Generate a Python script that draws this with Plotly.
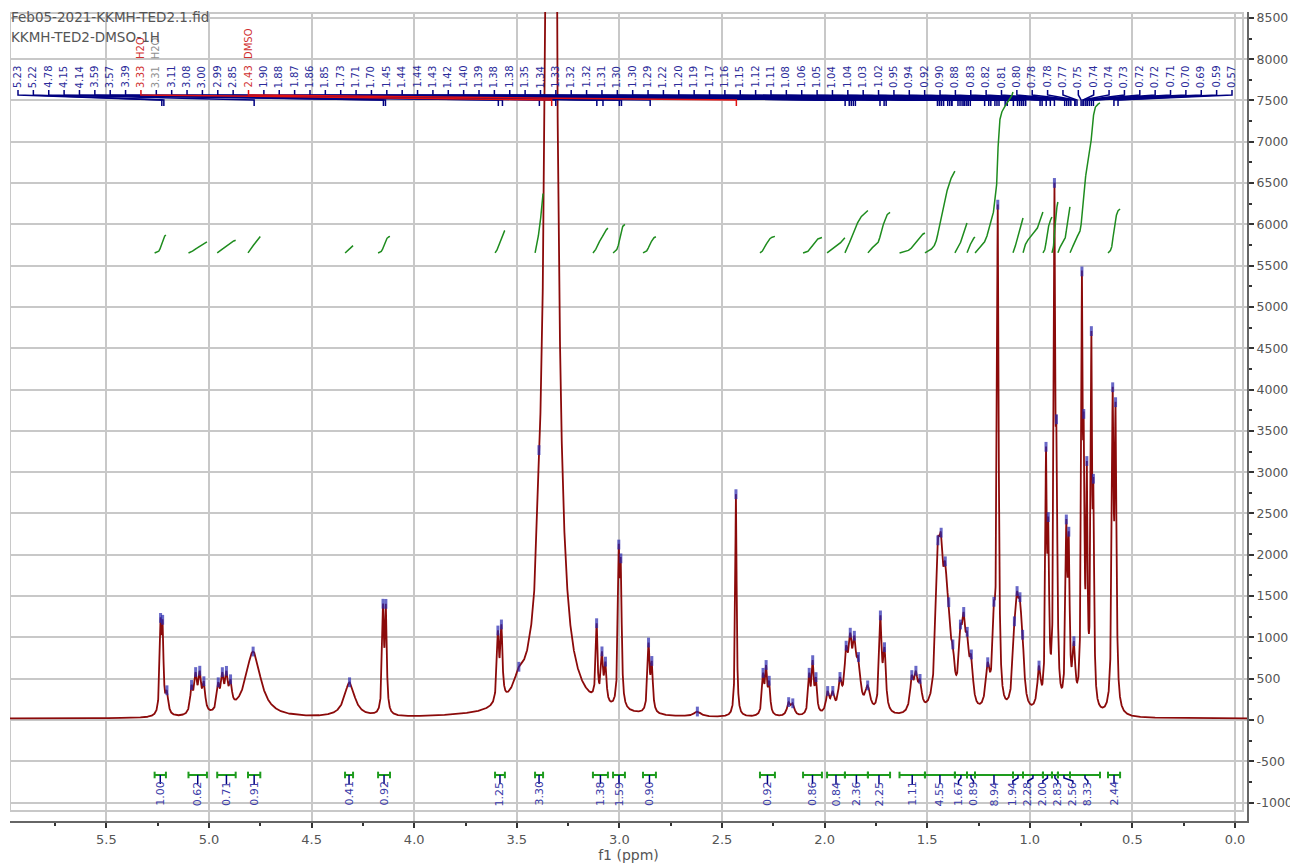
import numpy as np
import plotly.graph_objects as go

# spectrum lines: position (ppm), height, half width (ppm)
line_ppm = [5.236, 5.226, 5.205, 5.085, 5.065, 5.045, 5.025, 4.955, 4.935, 4.915, 4.895,
            4.785, 4.315, 4.152, 4.138, 3.592, 3.575, 3.49, 3.392, 3.333, 3.111, 3.085,
            3.068, 3.003, 2.993, 2.858, 2.842, 2.62, 2.432, 2.300, 2.285, 2.270, 2.175,
            2.155, 2.075, 2.058, 2.042, 1.985, 1.96, 1.925, 1.895, 1.875, 1.855, 1.835,
            1.79, 1.728, 1.708, 1.575, 1.555, 1.535, 1.448, 1.432, 1.412, 1.395, 1.375,
            1.338, 1.322, 1.305, 1.285, 1.205, 1.175, 1.156, 1.075, 1.062, 1.048, 1.035,
            0.955, 0.921, 0.910, 0.880, 0.870, 0.822, 0.810, 0.785, 0.746, 0.737, 0.722,
            0.700, 0.690, 0.596, 0.582]
line_height = [1000, 950, 250, 300, 420, 430, 330, 300, 380, 380, 280,
               800, 420, 1220, 1220, 800, 850, 200, 550, 26000, 900, 550,
               450, 1700, 1500, 800, 550, 60, 2700, 450, 520, 350, 150,
               130, 450, 580, 380, 250, 220, 350, 620, 700, 650, 500,
               300, 1100, 700, 380, 380, 300, 1500, 1300, 1100, 700, 400,
               700, 800, 600, 500, 500, 900, 6000, 650, 900, 850, 500,
               500, 2800, 1900, 5800, 2700, 2000, 1800, 700, 4800, 2600, 2600,
               4200, 2200, 3600, 3400]
line_hw = [0.005, 0.005, 0.008, 0.008, 0.008, 0.008, 0.008, 0.008, 0.008, 0.008, 0.008,
           0.045, 0.03, 0.005, 0.005, 0.006, 0.006, 0.03, 0.008, 0.02, 0.005, 0.006,
           0.006, 0.005, 0.005, 0.006, 0.006, 0.02, 0.004, 0.006, 0.006, 0.006, 0.01,
           0.01, 0.006, 0.006, 0.006, 0.01, 0.01, 0.01, 0.01, 0.01, 0.01, 0.012,
           0.015, 0.007, 0.008, 0.01, 0.01, 0.01, 0.012, 0.012, 0.012, 0.012, 0.01,
           0.01, 0.01, 0.01, 0.01, 0.012, 0.008, 0.005, 0.01, 0.01, 0.01, 0.01,
           0.01, 0.004, 0.005, 0.004, 0.005, 0.005, 0.005, 0.008, 0.004, 0.004, 0.004,
           0.004, 0.004, 0.005, 0.005]

# peak labels along the top
peak_labels = [5.23, 5.22, 4.78, 4.15, 4.14, 3.59, 3.57, 3.39, 3.33, 3.31, 3.11, 3.08, 3.00,
               2.99, 2.85, 2.43, 1.90, 1.88, 1.87, 1.86, 1.85, 1.73, 1.71, 1.70, 1.45, 1.44,
               1.44, 1.43, 1.42, 1.40, 1.39, 1.38, 1.38, 1.35, 1.34, 1.33, 1.32, 1.32, 1.31,
               1.30, 1.30, 1.29, 1.22, 1.20, 1.19, 1.17, 1.16, 1.15, 1.12, 1.11, 1.08, 1.06,
               1.05, 1.04, 1.04, 1.03, 1.02, 0.95, 0.94, 0.92, 0.90, 0.88, 0.83, 0.82, 0.81,
               0.80, 0.78, 0.78, 0.77, 0.75, 0.74, 0.74, 0.73, 0.72, 0.72, 0.71, 0.70, 0.69,
               0.59, 0.57]
solvent_tags = {8: ("H2O", "#d03030"), 9: ("H2O", "#909090"), 15: ("DMSO", "#d03030")}

# integration regions (ppm) and values
int_start = [5.265, 5.10, 4.96, 4.81, 4.337, 4.176, 3.606, 3.411, 3.129, 3.031, 2.885, 2.315,
             2.105, 1.988, 1.901, 1.789, 1.635, 1.511, 1.365, 1.306, 1.267, 1.082, 1.033,
             0.936, 0.892, 0.863, 0.804, 0.619]
int_end = [5.21, 5.01, 4.87, 4.75, 4.298, 4.118, 3.558, 3.372, 3.056, 2.973, 2.822, 2.242,
           2.013, 1.901, 1.789, 1.681, 1.511, 1.365, 1.306, 1.267, 1.082, 1.033, 0.936,
           0.892, 0.863, 0.804, 0.658, 0.560]
int_values = [1.00, 0.62, 0.71, 0.91, 0.41, 0.92, 1.25, 3.30, 1.38, 1.59, 0.90, 0.92,
              0.86, 0.84, 2.36, 2.25, 1.11, 4.55, 1.67, 0.89, 8.94, 1.94, 2.28, 2.00,
              2.83, 2.56, 8.33, 2.44]

title_lines = ["Feb05-2021-KKMH-TED2.1.fid", "KKMH-TED2-DMSO-1H"]

X_RANGE = [5.9698, -0.0585]
Y_RANGE = [-1223, 8571]


def px_to_ppm(px):
    return (1235 - px) / 205.2


def px_to_val(py):
    return (720 - py) / 0.0826


ppm = np.linspace(-0.06, 5.98, 24000)
spec = np.full_like(ppm, 15.0)
for p, h, w in zip(line_ppm, line_height, line_hw):
    spec += h * w ** 2 / (w ** 2 + (ppm - p) ** 2)


def spec_at(p):
    return np.interp(p, ppm, spec)


fig = go.Figure()

# frame
fig.add_shape(type="rect", x0=X_RANGE[0], x1=px_to_ppm(1243), y0=px_to_val(811), y1=px_to_val(13),
              line=dict(color="#c8c8c8", width=2), layer="below")

fig.add_trace(go.Scatter(x=ppm, y=spec, mode="lines", line=dict(color="#8b0a0a", width=1.8),
                         hoverinfo="skip", showlegend=False))

fig.add_trace(go.Scatter(x=line_ppm, y=spec_at(np.array(line_ppm)), mode="markers",
                         marker=dict(symbol="line-ns-open", size=7, color="rgba(40,40,175,0.7)",
                                     line=dict(width=3, color="rgba(40,40,175,0.7)")),
                         hoverinfo="skip", showlegend=False))

# peak labels + connectors
n = len(peak_labels)
lab_px = np.linspace(18, 1232, n)
cx, cy, rx, ry = [], [], [], []
for i, (lp, pv) in enumerate(zip(lab_px, peak_labels)):
    color = "#2b2b9a"
    if i in solvent_tags:
        tag, color = solvent_tags[i]
        fig.add_annotation(x=px_to_ppm(lp), y=px_to_val(60), text=tag, textangle=-90, showarrow=False,
                           xanchor="center", yanchor="bottom", borderpad=0,
                           font=dict(size=10, color=color, family="DejaVu Sans"))
    fig.add_annotation(x=px_to_ppm(lp), y=px_to_val(89), text=f"{pv:.2f}", textangle=-90,
                       showarrow=False, xanchor="center", yanchor="bottom", borderpad=0,
                       font=dict(size=10, color=color, family="DejaVu Sans"))
    xs = [px_to_ppm(lp), px_to_ppm(lp), pv, pv, None]
    ys = [px_to_val(90), px_to_val(95), px_to_val(100), px_to_val(106), None]
    if i in solvent_tags and solvent_tags[i][1] == "#d03030":
        rx += xs
        ry += ys
    else:
        cx += xs
        cy += ys
fig.add_trace(go.Scatter(x=cx, y=cy, mode="lines", line=dict(color="#000080", width=1.5),
                         hoverinfo="skip", showlegend=False))
fig.add_trace(go.Scatter(x=rx, y=ry, mode="lines", line=dict(color="#e01010", width=1.5),
                         hoverinfo="skip", showlegend=False))

# integral curves
int_base = px_to_val(253)
int_unit = 218
ix, iy = [], []
for a, b, v in zip(int_start, int_end, int_values):
    m = (ppm <= a) & (ppm >= b)
    xs = ppm[m][::-1]
    ys = spec[m][::-1]
    cum = np.cumsum(ys)
    cum = cum / cum[-1]
    ix += list(xs) + [None]
    iy += list(int_base + v * int_unit * cum) + [None]
fig.add_trace(go.Scatter(x=ix, y=iy, mode="lines", line=dict(color="#1e8c1e", width=1.5),
                         hoverinfo="skip", showlegend=False))

# integration brackets at the bottom
br_y = px_to_val(775)
bx, by = [], []
for a, b in zip(int_start, int_end):
    bx += [a, b, None, a, a, None, b, b, None]
    by += [br_y, br_y, None, br_y - 40, br_y + 40, None, br_y - 40, br_y + 40, None]
fig.add_trace(go.Scatter(x=bx, y=by, mode="lines", line=dict(color="#1e9c1e", width=2),
                         hoverinfo="skip", showlegend=False))

# spread the integral labels so they do not overlap
centers = [(a + b) / 2 for a, b in zip(int_start, int_end)]
gap = 15.0 / 205.2
blocks = []
for c in centers:
    blocks.append([-c, [-c]])
    while len(blocks) > 1 and blocks[-2][0] + len(blocks[-2][1]) * gap > blocks[-1][0]:
        last = blocks.pop()
        prev = blocks[-1]
        prev[1].extend(last[1])
        prev[0] = np.mean(prev[1]) - (len(prev[1]) - 1) * gap / 2
lab_pos = []
for start, members in blocks:
    lab_pos += [-(start + k * gap) for k in range(len(members))]

lx, ly = [], []
for c, lp, v in zip(centers, lab_pos, int_values):
    lx += [c, c, lp, lp, None]
    ly += [br_y, px_to_val(778), px_to_val(781), px_to_val(784), None]
    fig.add_annotation(x=lp, y=px_to_val(780), text=f"{v:.2f}", textangle=-90, showarrow=False,
                       xanchor="center", yanchor="top", borderpad=0,
                       font=dict(size=11, color="#3a3aa8", family="DejaVu Sans"))
fig.add_trace(go.Scatter(x=lx, y=ly, mode="lines", line=dict(color="#000080", width=1.5),
                         hoverinfo="skip", showlegend=False))

for k, t in enumerate(title_lines):
    fig.add_annotation(x=X_RANGE[0], y=px_to_val(17 + 20 * k), text=t, showarrow=False,
                       xanchor="left", yanchor="middle", borderpad=0,
                       font=dict(size=13.5, color="#555555", family="DejaVu Sans"))

ytick_vals = list(range(-1000, 8501, 500))
# the page body adds an 8px offset, so the figure is 8px smaller and margins shifted
fig.update_layout(
    width=1290, height=855,
    margin=dict(l=2, r=51, t=4, b=42),
    paper_bgcolor="white", plot_bgcolor="white",
    font=dict(family="DejaVu Sans", color="#555555"),
    xaxis=dict(range=X_RANGE, tickvals=[0.5 * k for k in range(12)],
               ticktext=[f"{0.5 * k:.1f}" for k in range(12)],
               ticks="outside", ticklen=5, tickwidth=2, tickcolor="#333333",
               minor=dict(tickmode="linear", tick0=0, dtick=0.25, ticks="outside", ticklen=3,
                          tickwidth=2, tickcolor="#333333", showgrid=False),
               showgrid=True, gridcolor="#c8c8c8", gridwidth=2, zeroline=False,
               showline=True, linecolor="#666666", linewidth=2, automargin=False,
               tickfont=dict(size=13, color="#555555"),
               title=dict(text="f1 (ppm)", font=dict(size=14, color="#555555"), standoff=2)),
    yaxis=dict(range=Y_RANGE, side="right", tickvals=ytick_vals,
               ticktext=[str(v) for v in ytick_vals],
               ticks="outside", ticklen=5, tickwidth=2, tickcolor="#333333",
               minor=dict(tickmode="linear", tick0=0, dtick=250, ticks="outside", ticklen=3,
                          tickwidth=2, tickcolor="#333333", showgrid=False),
               showgrid=True, gridcolor="#c8c8c8", gridwidth=2, zeroline=False,
               showline=True, linecolor="#666666", linewidth=2, automargin=False,
               tickfont=dict(size=12.5, color="#555555")),
)

fig.write_html("out.html")
